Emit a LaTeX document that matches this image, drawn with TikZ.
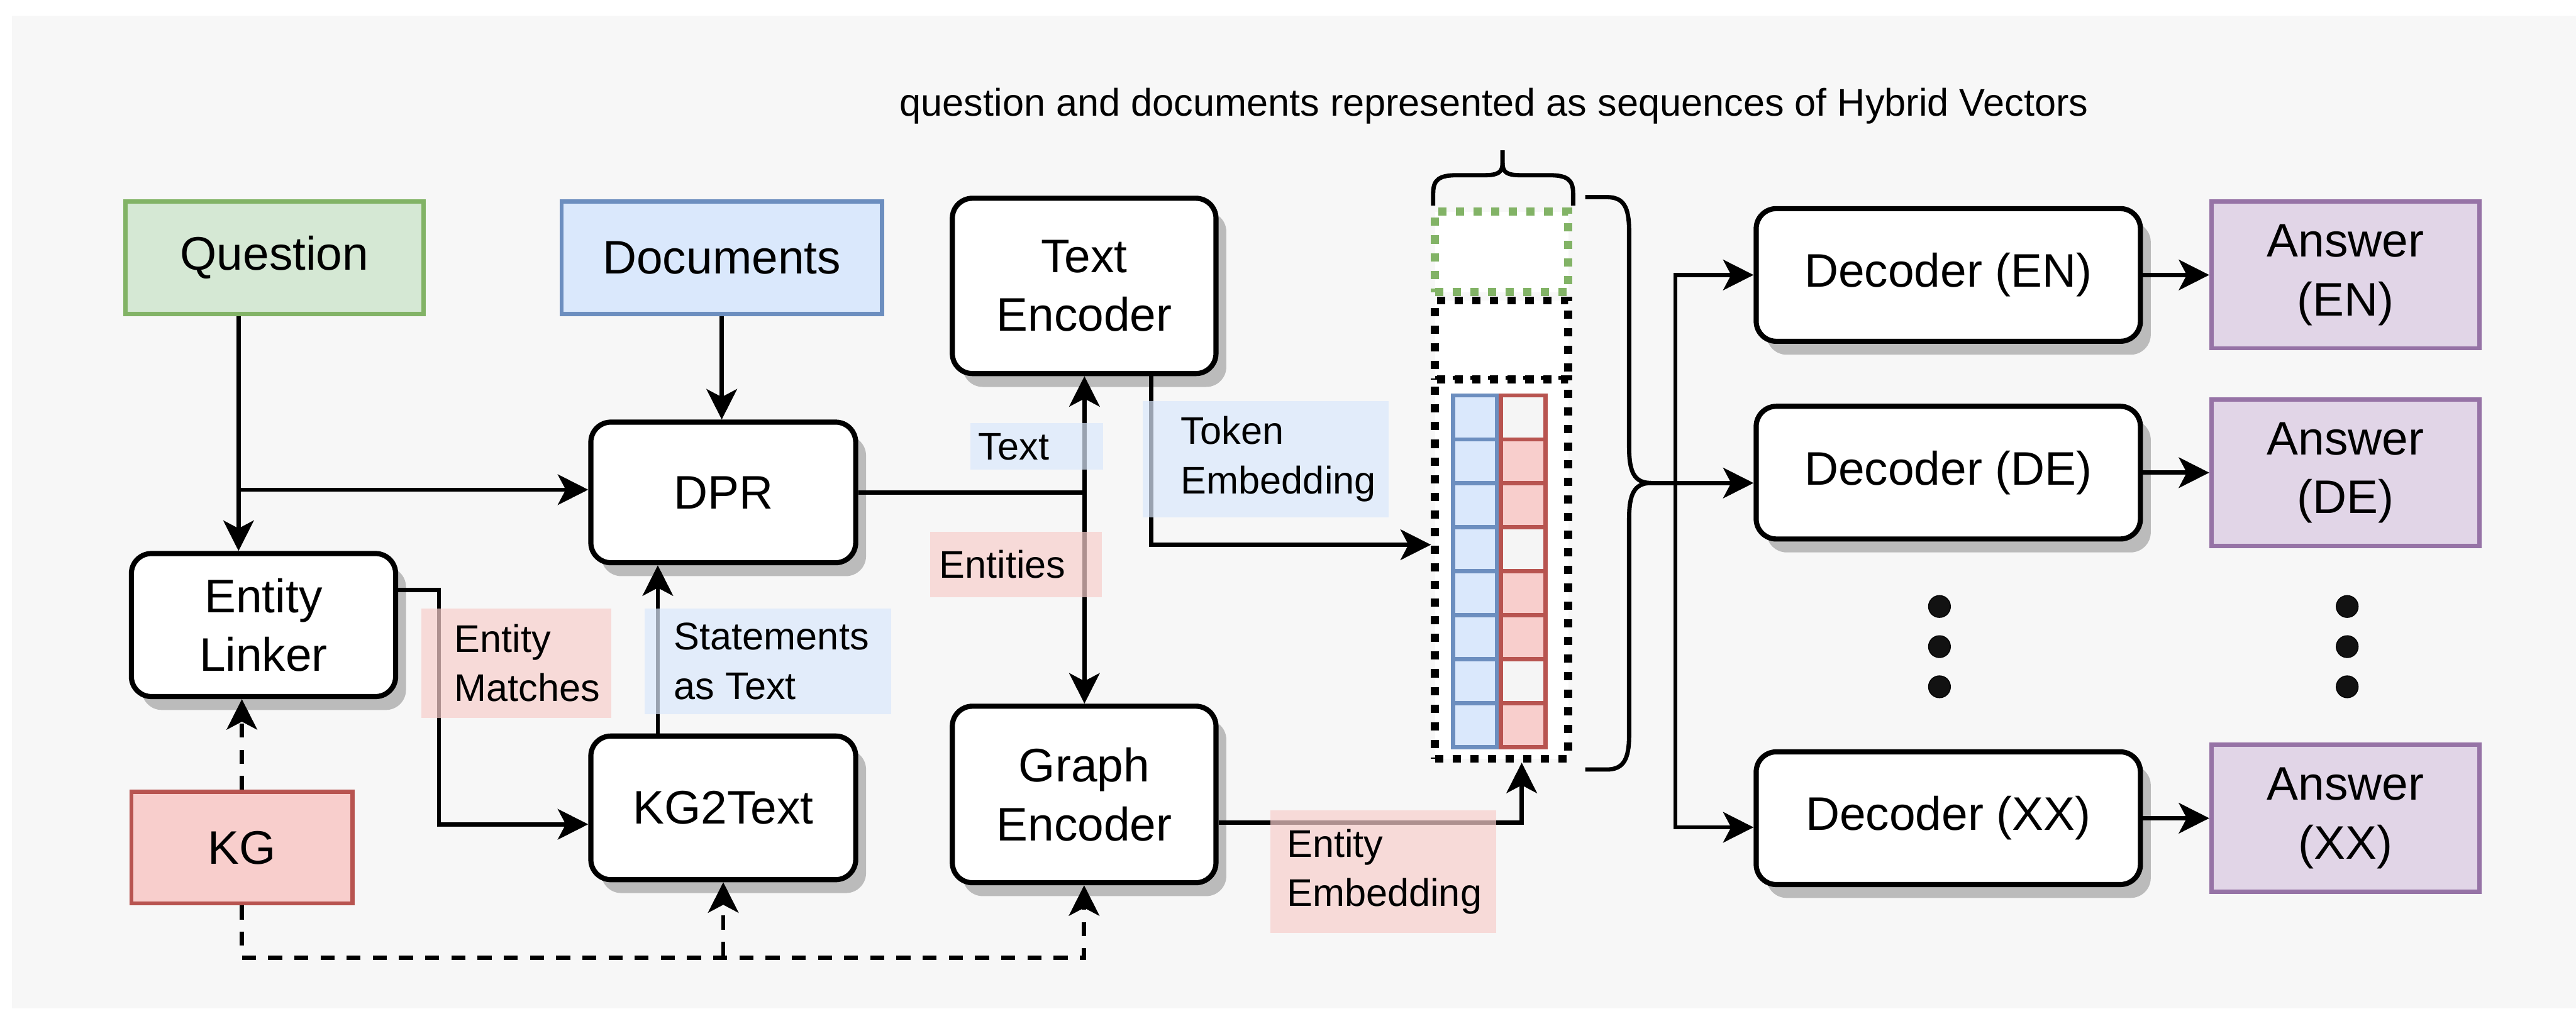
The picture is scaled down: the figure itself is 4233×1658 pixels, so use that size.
\documentclass[tikz,border=0pt]{standalone}
\usepackage{fontspec}
\setmainfont{Liberation Sans}
\usetikzlibrary{arrows.meta,shadows}

\definecolor{bgcol}{HTML}{F7F7F7}
\definecolor{shadowcol}{HTML}{BBBBBB}
\definecolor{greenfill}{HTML}{D5E8D4}
\definecolor{greenline}{HTML}{82B366}
\definecolor{bluefill}{HTML}{DAE8FC}
\definecolor{blueline}{HTML}{6C8EBF}
\definecolor{redfill}{HTML}{F8CECC}
\definecolor{redline}{HTML}{B85450}
\definecolor{purplefill}{HTML}{E1D5E7}
\definecolor{purpleline}{HTML}{9673A6}
\definecolor{cellwhite}{HTML}{F5F5F5}

\newcommand{\boxfont}{\fontsize{22}{27.5}\selectfont}
\newcommand{\lblfont}{\fontsize{18}{23}\selectfont}

\begin{document}
\begin{tikzpicture}[
    x=0.01cm, y=-0.01cm,
    block/.style={draw, line width=2.4pt, rounded corners=0.33cm, fill=white, align=center, font=\boxfont, inner sep=0pt,
        drop shadow={shadow xshift=0.17cm, shadow yshift=-0.22cm, fill=shadowcol, opacity=1}},
    inbox/.style={draw, line width=2pt, align=center, font=\boxfont, inner sep=0pt},
    conn/.style={line width=2pt},
    arrow/.style={conn, -{Stealth[length=0.5cm, width=0.5cm, inset=0.13cm]}},
    dasharrow/.style={arrow, dash pattern=on 0.23cm off 0.2cm},
    tagbox/.style={fill opacity=0.7, inner sep=0pt},
    tagtext/.style={anchor=west, align=left, font=\lblfont, inner sep=0pt},
    vecframe/.style={draw, fill=white, line width=0.13cm, dash pattern=on 0.135cm off 0.155cm, inner sep=0pt, minimum width=2.19cm},
    cell/.style={line width=2pt},
    bracepath/.style={line width=2pt},
    dotmark/.style={circle, fill=black!93, draw=black, inner sep=0pt, minimum size=0.36cm}
]
    % Canvas
    \useasboundingbox (0,0) rectangle (4233,1658);
    \fill[bgcol] (20,26) rectangle (4233,1658);

    \node[font=\lblfont, anchor=base] (caption) at (2455,191)
        {question and documents represented as sequences of Hybrid Vectors};

    % Inputs
    \node[inbox, fill=greenfill, draw=greenline, minimum width=4.9cm, minimum height=1.85cm] (question) at (451,423.5) {Question};
    \node[inbox, fill=bluefill, draw=blueline, minimum width=5.26cm, minimum height=1.85cm] (docs) at (1186,423.5) {Documents};
    \node[inbox, fill=redfill, draw=redline, minimum width=3.63cm, minimum height=1.83cm] (kg) at (397.5,1393.5) {KG};

    % Retrieval and encoders
    \node[block, minimum width=4.34cm, minimum height=2.35cm] (linker) at (433,1027.5) {Entity\\Linker};
    \node[block, minimum width=4.35cm, minimum height=2.31cm] (dpr) at (1188.5,809.5) {DPR};
    \node[block, minimum width=4.35cm, minimum height=2.36cm] (kg2text) at (1188.5,1328) {KG2Text};
    \node[block, minimum width=4.33cm, minimum height=2.88cm] (txtenc) at (1781.5,470) {Text\\Encoder};
    \node[block, minimum width=4.33cm, minimum height=2.9cm] (graphenc) at (1781.5,1306) {Graph\\Encoder};

    % Hybrid vector sequence
    \node[vecframe, draw=greenline, minimum height=1.32cm] (vecq) at (2467.5,414) {};
    \node[vecframe, minimum height=1.30cm] (vecdoc) at (2467.5,559) {};
    \node[vecframe, minimum height=6.23cm] (vecbox) at (2467.5,935.5) {};
    \foreach \i/\c in {0/cellwhite,1/redfill,2/redfill,3/cellwhite,4/redfill,5/redfill,6/cellwhite,7/redfill} {
        \draw[cell, draw=blueline, fill=bluefill] (2387.5,{650+72.3*\i}) rectangle ++(72,72.3);
        \draw[cell, draw=redline, fill=\c] (2466.5,{650+72.3*\i}) rectangle ++(73,72.3);
    }

    % Braces
    \draw[bracepath] (2355,338) -- (2355,318) .. controls (2355,295) and (2365,288) .. (2395,288) -- (2440,288)
        .. controls (2462,288) and (2469,283) .. (2469,268) -- (2469,247);
    \draw[bracepath] (2469,268) .. controls (2469,283) and (2476,288) .. (2498,288) -- (2545,288)
        .. controls (2575,288) and (2585,295) .. (2585,318) -- (2585,338);
    \draw[bracepath] (2605,324) -- (2640,324) .. controls (2668,324) and (2677,340) .. (2677,380) -- (2677,735)
        .. controls (2677,775) and (2685,794) .. (2713,794);
    \draw[bracepath] (2713,794) .. controls (2685,794) and (2677,813) .. (2677,853) -- (2677,1208)
        .. controls (2677,1248) and (2668,1265) .. (2640,1265) -- (2605,1265);

    % Decoders and answers
    \foreach \lang/\y in {EN/452,DE/777,XX/1345} {
        \node[block, minimum width=6.31cm, minimum height=2.18cm] (dec\lang) at (3201.5,\y) {Decoder (\lang)};
        \node[inbox, fill=purplefill, draw=purpleline, minimum width=4.4cm, minimum height=2.41cm] (ans\lang) at (3854,\y) {Answer\\(\lang)};
        \draw[arrow] (dec\lang) -- (ans\lang);
    }
    \foreach \y [count=\k] in {997,1063,1129} {
        \node[dotmark] (decdot\k) at (3187,\y) {};
        \node[dotmark] (ansdot\k) at (3857,\y) {};
    }

    % Connections
    \coordinate (qsplit) at (392,805);
    \coordinate (split) at (1782,809.5);
    \coordinate (brtip) at (2713,794);
    \coordinate (bus) at (2753,794);

    \draw[arrow] (question.south -| qsplit) -- (linker.north -| qsplit);
    \draw[arrow] (qsplit) -- (dpr.west |- qsplit);
    \draw[arrow] (docs.south) -- (docs.south |- dpr.north);
    \draw[conn] (dpr.east) -- (split);
    \draw[arrow] (split) -- (split |- txtenc.south);
    \draw[arrow] (split) -- (split |- graphenc.north);
    \draw[arrow] ([xshift=-1.075cm]kg2text.north) -- ([xshift=-1.075cm]dpr.south);
    \draw[arrow] ([yshift=0.575cm]linker.east) -- ++(0.67cm,0) |- ([yshift=-0.27cm]kg2text.west);
    \draw[arrow] ([xshift=1.1cm]txtenc.south) |- ([yshift=0.4cm]vecbox.west);
    \draw[arrow] ([yshift=-0.46cm]graphenc.east) -| ([xshift=0.33cm]vecbox.south);
    \draw[dasharrow] (kg.north) -- (kg.north |- linker.south);
    \draw[dasharrow] (kg.south) -- ++(0,86) -| (graphenc.south);
    \draw[dasharrow] (kg2text.south |- 0,1571) -- (kg2text.south);
    \draw[arrow] (brtip) -- (decDE.west |- brtip);
    \draw[arrow] (bus) |- (decEN);
    \draw[arrow] (bus) |- ([yshift=-0.15cm]decXX.west);

    % Edge tags
    \node[tagbox, fill=bluefill, minimum width=2.18cm, minimum height=0.76cm] (textbg) at (1704,734) {};
    \node[tagtext] (textlbl) at (1607,734) {Text};
    \node[tagbox, fill=bluefill, minimum width=4.04cm, minimum height=1.91cm] (tokbg) at (2080,754.5) {};
    \node[tagtext] (toklbl) at (1940,754.5) {Token\\Embedding};
    \node[tagbox, fill=redfill, minimum width=2.82cm, minimum height=1.08cm] (entbg) at (1670,928) {};
    \node[tagtext] (entlbl) at (1543,928) {Entities};
    \node[tagbox, fill=redfill, minimum width=3.11cm, minimum height=1.8cm] (matchbg) at (848.5,1090) {};
    \node[tagtext] (matchlbl) at (746,1090) {Entity\\Matches};
    \node[tagbox, fill=bluefill, minimum width=4.05cm, minimum height=1.74cm] (stmtbg) at (1261.5,1087) {};
    \node[tagtext] (stmtlbl) at (1107,1087) {Statements\\as Text};
    \node[tagbox, fill=redfill, minimum width=3.7cm, minimum height=2.02cm] (embbg) at (2273,1433) {};
    \node[tagtext] (emblbl) at (2114,1433) {Entity\\Embedding};
\end{tikzpicture}
\end{document}
